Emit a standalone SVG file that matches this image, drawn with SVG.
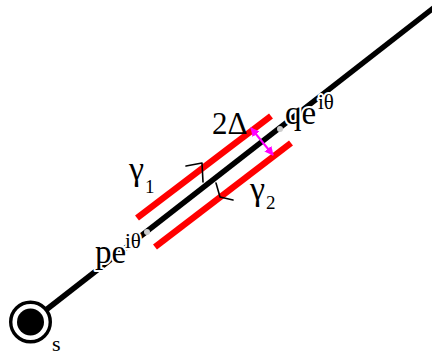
<svg xmlns="http://www.w3.org/2000/svg" width="432" height="356" viewBox="0 0 432 356">
<style>
.lbl{font-family:"Liberation Serif","Times New Roman",serif;fill:#000;}
.halo{stroke:#fff;stroke-width:4;paint-order:stroke;stroke-linejoin:round;}
.red{stroke:#ff0000;stroke-width:6.5;fill:none;}
.chev{stroke:#000;stroke-width:1.6;fill:none;stroke-linecap:round;stroke-linejoin:round;}
</style>
<defs>
<marker id="mh" viewBox="0 0 10 10" refX="9" refY="5" markerWidth="4.5" markerHeight="4.5" orient="auto-start-reverse">
<path d="M0,0 L10,5 L0,10 z" fill="#ff00ff"/>
</marker>
</defs>
<rect width="432" height="356" fill="#fff"/>
<g id="connectors">
<line x1="30.5" y1="322" x2="436" y2="6" stroke="#000" stroke-width="5.5"/>
<line class="red" x1="137" y1="218" x2="271" y2="116"/>
<line class="red" x1="155" y1="247" x2="291" y2="143"/>
<polyline class="chev" points="186,166 202,163 203,182"/>
<polyline class="chev" points="216,183 220,197 233,200"/>
<line x1="251" y1="128" x2="273" y2="155" stroke="#ff00ff" stroke-width="2" marker-start="url(#mh)" marker-end="url(#mh)"/>
<circle cx="147" cy="232" r="3" fill="#cccccc"/>
<circle cx="280" cy="129" r="3" fill="#cccccc"/>
</g>
<g id="node-s">
<circle cx="30.5" cy="322" r="19.8" fill="#fff" stroke="#000" stroke-width="3.4"/>
<circle cx="30.5" cy="322" r="13.5" fill="#000"/>
<text class="lbl" x="52" y="351" font-size="22">s</text>
</g>
<g id="label-p">
<text class="lbl halo" x="95" y="263" font-size="33">pe</text>
<text class="lbl halo" x="125" y="248" font-size="21">iθ</text>
</g>
<g id="label-q">
<text class="lbl halo" x="285" y="124" font-size="33">qe</text>
<text class="lbl halo" x="318" y="109" font-size="21">iθ</text>
</g>
<g id="label-2delta">
<text class="lbl" x="212" y="134" font-size="31">2Δ</text>
</g>
<g id="label-gamma1">
<text class="lbl" x="129" y="180" font-size="34">γ</text>
<text class="lbl" x="145" y="193" font-size="19">1</text>
</g>
<g id="label-gamma2">
<text class="lbl" x="250" y="200" font-size="34">γ</text>
<text class="lbl" x="266" y="209" font-size="19">2</text>
</g>
</svg>
